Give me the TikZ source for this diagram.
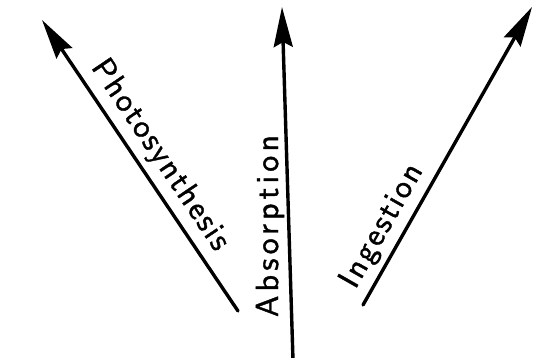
\documentclass[tikz,border=0pt]{standalone}
\usepackage{fontspec}
\usetikzlibrary{arrows.meta}
\newfontfamily\labfont{lmsans10-regular.otf}[FakeBold=1.2]
\tikzset{
  arr/.style={line width=3.4pt, line cap=round, -{Stealth[length=40pt, width=19pt, inset=5pt]}},
  lab/.style={inner sep=0pt, anchor=base},
  sp/.style={font=\labfont\addfontfeature{LetterSpace=#1}\fontsize{32}{32}\selectfont}
}
\begin{document}
\begin{tikzpicture}[x=1pt, y=-1pt]
\useasboundingbox (0,0) rectangle (547,358);
\coordinate (t1) at (238,311);
\coordinate (h1) at (42,20);
\coordinate (t2) at (293,360);
\coordinate (h2) at (282,7);
\coordinate (t3) at (363,305);
\coordinate (h3) at (532,7);
\draw[arr] (t1) -- (h1);
\draw[arr] (t2) -- (h2);
\draw[arr] (t3) -- (h3);
\node[lab, sp=6, rotate=-56] (l1) at (153.1,159.8) {Photosynthesis};
\node[lab, sp=13, rotate=90] (l2) at (278,226) {Absorption};
\node[lab, sp=7, rotate=60.4] (l3) at (389.3,230.2) {Ingestion};
\end{tikzpicture}
\end{document}
